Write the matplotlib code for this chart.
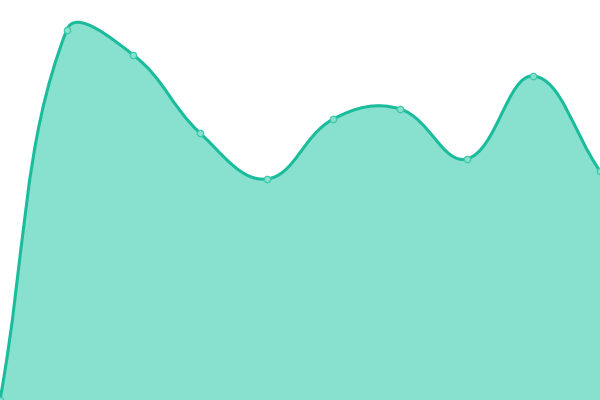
import numpy as np
import matplotlib
matplotlib.use("Agg")
import matplotlib.pyplot as plt
from matplotlib.path import Path
from matplotlib.patches import PathPatch

# valeurs (hauteur en pixels depuis le bas)
labels = ["1", "2", "3", "4", "5", "6", "7", "8", "9", "10"]
values = [0, 370, 345, 267, 221, 281, 291, 241, 324, 229]

line_color = "#1abc9c"
fill_color = "#88e0ce"
tension = 0.4


def spline_controls(xs, ys, t, ymin, ymax):
    # points de controle facon chart.js (tension + bornes de la zone)
    n = len(xs)
    cps = []
    for i in range(n):
        p0 = (xs[max(i - 1, 0)], ys[max(i - 1, 0)])
        p1 = (xs[i], ys[i])
        p2 = (xs[min(i + 1, n - 1)], ys[min(i + 1, n - 1)])
        d01 = np.hypot(p1[0] - p0[0], p1[1] - p0[1])
        d12 = np.hypot(p2[0] - p1[0], p2[1] - p1[1])
        tot = d01 + d12
        s01 = d01 / tot if tot else 0
        s12 = d12 / tot if tot else 0
        fa, fb = t * s01, t * s12
        prev = (p1[0] - fa * (p2[0] - p0[0]), p1[1] - fa * (p2[1] - p0[1]))
        nxt = (p1[0] + fb * (p2[0] - p0[0]), p1[1] + fb * (p2[1] - p0[1]))
        prev = (prev[0], min(max(prev[1], ymin), ymax))
        nxt = (nxt[0], min(max(nxt[1], ymin), ymax))
        cps.append((prev, nxt))
    return cps


fig = plt.figure(figsize=(6, 4), dpi=100)
ax = fig.add_axes([0, 0, 1, 1])
ax.set_xlim(0, 600)
ax.set_ylim(0, 400)
ax.axis("off")

xs = np.linspace(0, 600, len(values))
ys = np.array(values, dtype=float)
cps = spline_controls(xs, ys, tension, 0, 400)

verts = [(xs[0], ys[0])]
codes = [Path.MOVETO]
for i in range(1, len(xs)):
    verts += [cps[i - 1][1], cps[i][0], (xs[i], ys[i])]
    codes += [Path.CURVE4] * 3

fill_verts = verts + [(xs[-1], 0), (xs[0], 0), (xs[0], ys[0])]
fill_codes = codes + [Path.LINETO, Path.LINETO, Path.CLOSEPOLY]
ax.add_patch(PathPatch(Path(fill_verts, fill_codes), facecolor=fill_color,
                       edgecolor="none"))
ax.add_patch(PathPatch(Path(verts, codes), facecolor="none",
                       edgecolor=line_color, linewidth=2.2))
ax.plot(xs, ys, "o", markersize=4.6, markerfacecolor=fill_color,
        markeredgecolor="#3cc9a9", markeredgewidth=0.9, clip_on=True)

fig.savefig("out.png", dpi=100)
